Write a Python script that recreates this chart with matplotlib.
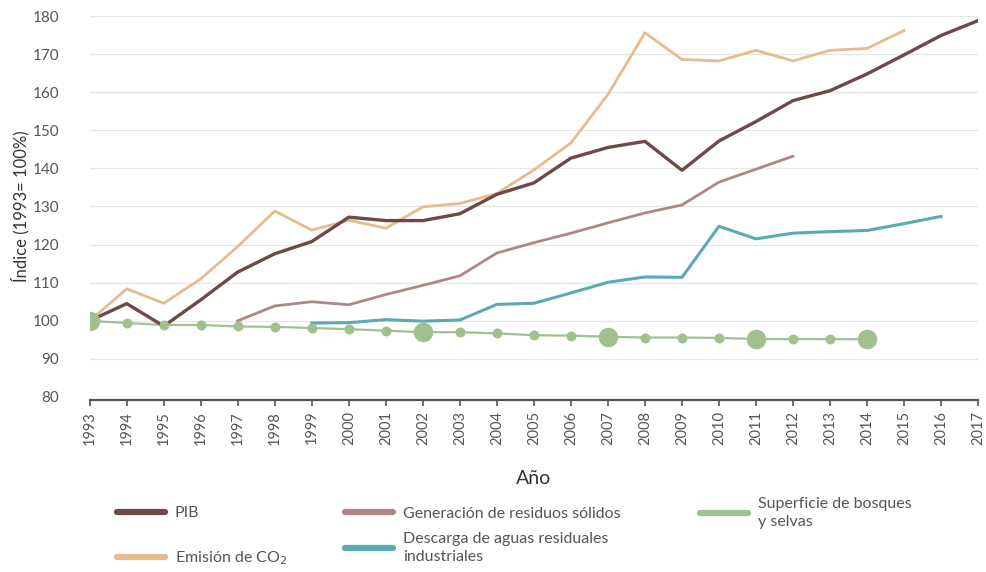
import matplotlib
matplotlib.use("Agg")
import matplotlib.pyplot as plt
import matplotlib.ticker as mticker

plt.rcParams['font.family'] = ['Lato', 'DejaVu Sans']

anios = list(range(1993, 2018))

pib = [100, 104.5, 98.6, 105.5, 112.8, 117.6, 120.8, 127.2, 126.3, 126.3, 128.1,
       133.2, 136.2, 142.7, 145.5, 147.1, 139.5, 147.2, 152.3, 157.8, 160.4,
       164.8, 169.8, 174.9, 178.8]
co2 = [100, 108.4, 104.6, 111.0, 119.5, 128.8, 123.8, 126.4, 124.3, 129.9, 130.8,
       133.4, 139.6, 146.7, 159.4, 175.6, 168.6, 168.2, 171.0, 168.2, 171.0,
       171.5, 176.2]
residuos = [100, 103.9, 105.0, 104.2, 106.9, 109.3, 111.8, 117.8, 120.5, 123.0,
            125.7, 128.3, 130.4, 136.4, 139.8, 143.2]
aguas = [99.4, 99.5, 100.3, 99.9, 100.2, 104.3, 104.6, 107.3, 110.1, 111.5,
         111.4, 124.8, 121.5, 123.0, 123.4, 123.7, 125.5, 127.4]
bosques = [100, 99.4, 98.9, 98.9, 98.5, 98.4, 98.1, 97.8, 97.4, 97.0, 97.0,
           96.7, 96.2, 96.1, 95.8, 95.6, 95.6, 95.5, 95.2, 95.2, 95.2, 95.1]
bosques_destacados = [1993, 2002, 2007, 2011, 2014]

anios_co2 = anios[:len(co2)]
anios_res = list(range(1997, 1997 + len(residuos)))
anios_agua = list(range(1999, 1999 + len(aguas)))
anios_bosq = anios[:len(bosques)]

c_pib = '#6f4848'
c_co2 = '#e6bb8e'
c_res = '#b08686'
c_agua = '#5aaab1'
c_bosq = '#a2bf8e'
c_txt = '#555555'

fig = plt.figure(figsize=(9.86, 5.72), dpi=100)
ax = fig.add_axes([0.091, 0.306, 0.901, 0.666])

l_co2, = ax.plot(anios_co2, co2, color=c_co2, lw=2.0, zorder=3)
l_pib, = ax.plot(anios, pib, color=c_pib, lw=2.4, zorder=4)
l_res, = ax.plot(anios_res, residuos, color=c_res, lw=2.0, zorder=3)
l_agua, = ax.plot(anios_agua, aguas, color=c_agua, lw=2.2, zorder=3)
l_bosq, = ax.plot(anios_bosq, bosques, color=c_bosq, lw=1.6, zorder=3)

chicos = [(a, v) for a, v in zip(anios_bosq, bosques) if a not in bosques_destacados]
grandes = [(a, v) for a, v in zip(anios_bosq, bosques) if a in bosques_destacados]
ax.scatter([a for a, v in chicos], [v for a, v in chicos], s=38, color=c_bosq, zorder=5)
ax.scatter([a for a, v in grandes], [v for a, v in grandes], s=170, color=c_bosq, zorder=5)

ax.set_xlim(1993, 2017)
ax.set_ylim(80, 180)
ax.xaxis.set_major_locator(mticker.FixedLocator(anios))
ax.xaxis.set_major_formatter(mticker.FuncFormatter(lambda x, pos: '%d' % x))
ax.yaxis.set_major_locator(mticker.MultipleLocator(10))
ax.tick_params(axis='x', colors=c_txt, labelsize=10.5, length=4, width=1.2,
               direction='out', pad=4, labelrotation=90)
ax.tick_params(axis='y', colors=c_txt, labelsize=11, length=0, pad=22)

ax.grid(axis='y', color='#e6e6e6', lw=0.9)
ax.set_axisbelow(True)
for s in ['top', 'right', 'left']:
    ax.spines[s].set_visible(False)
ax.spines['bottom'].set_color('#555555')
ax.spines['bottom'].set_linewidth(1.6)
ax.spines['bottom'].set_position(('outward', 2))

ax.set_ylabel('Índice (1993= 100%)', fontsize=12, color='#333333', labelpad=2)
ax.set_xlabel('Año', fontsize=14, color='#333333', labelpad=18)


def columna(lineas, textos, x, y, espacio):
    leg = fig.legend(lineas, textos, loc='center left', bbox_to_anchor=(x, y),
                     frameon=False, fontsize=11.5, handlelength=3.0,
                     handletextpad=0.6, labelspacing=espacio, borderpad=0,
                     borderaxespad=0, labelcolor=c_txt)
    for h in leg.legend_handles:
        h.set_linewidth(4.5)
        h.set_solid_capstyle('round')
    for t in leg.get_texts():
        t.set_linespacing(1.4)
    return leg


columna([l_pib, l_co2], ['PIB', 'Emisión de CO$_2$'], 0.119, 0.062, 1.8)
columna([l_res, l_agua], ['Generación de residuos sólidos',
                          'Descarga de aguas residuales\nindustriales'],
        0.35, 0.064, 0.7)
columna([l_bosq], ['Superficie de bosques\ny selvas'], 0.71, 0.103, 0.5)

fig.savefig('out.png', dpi=100)
